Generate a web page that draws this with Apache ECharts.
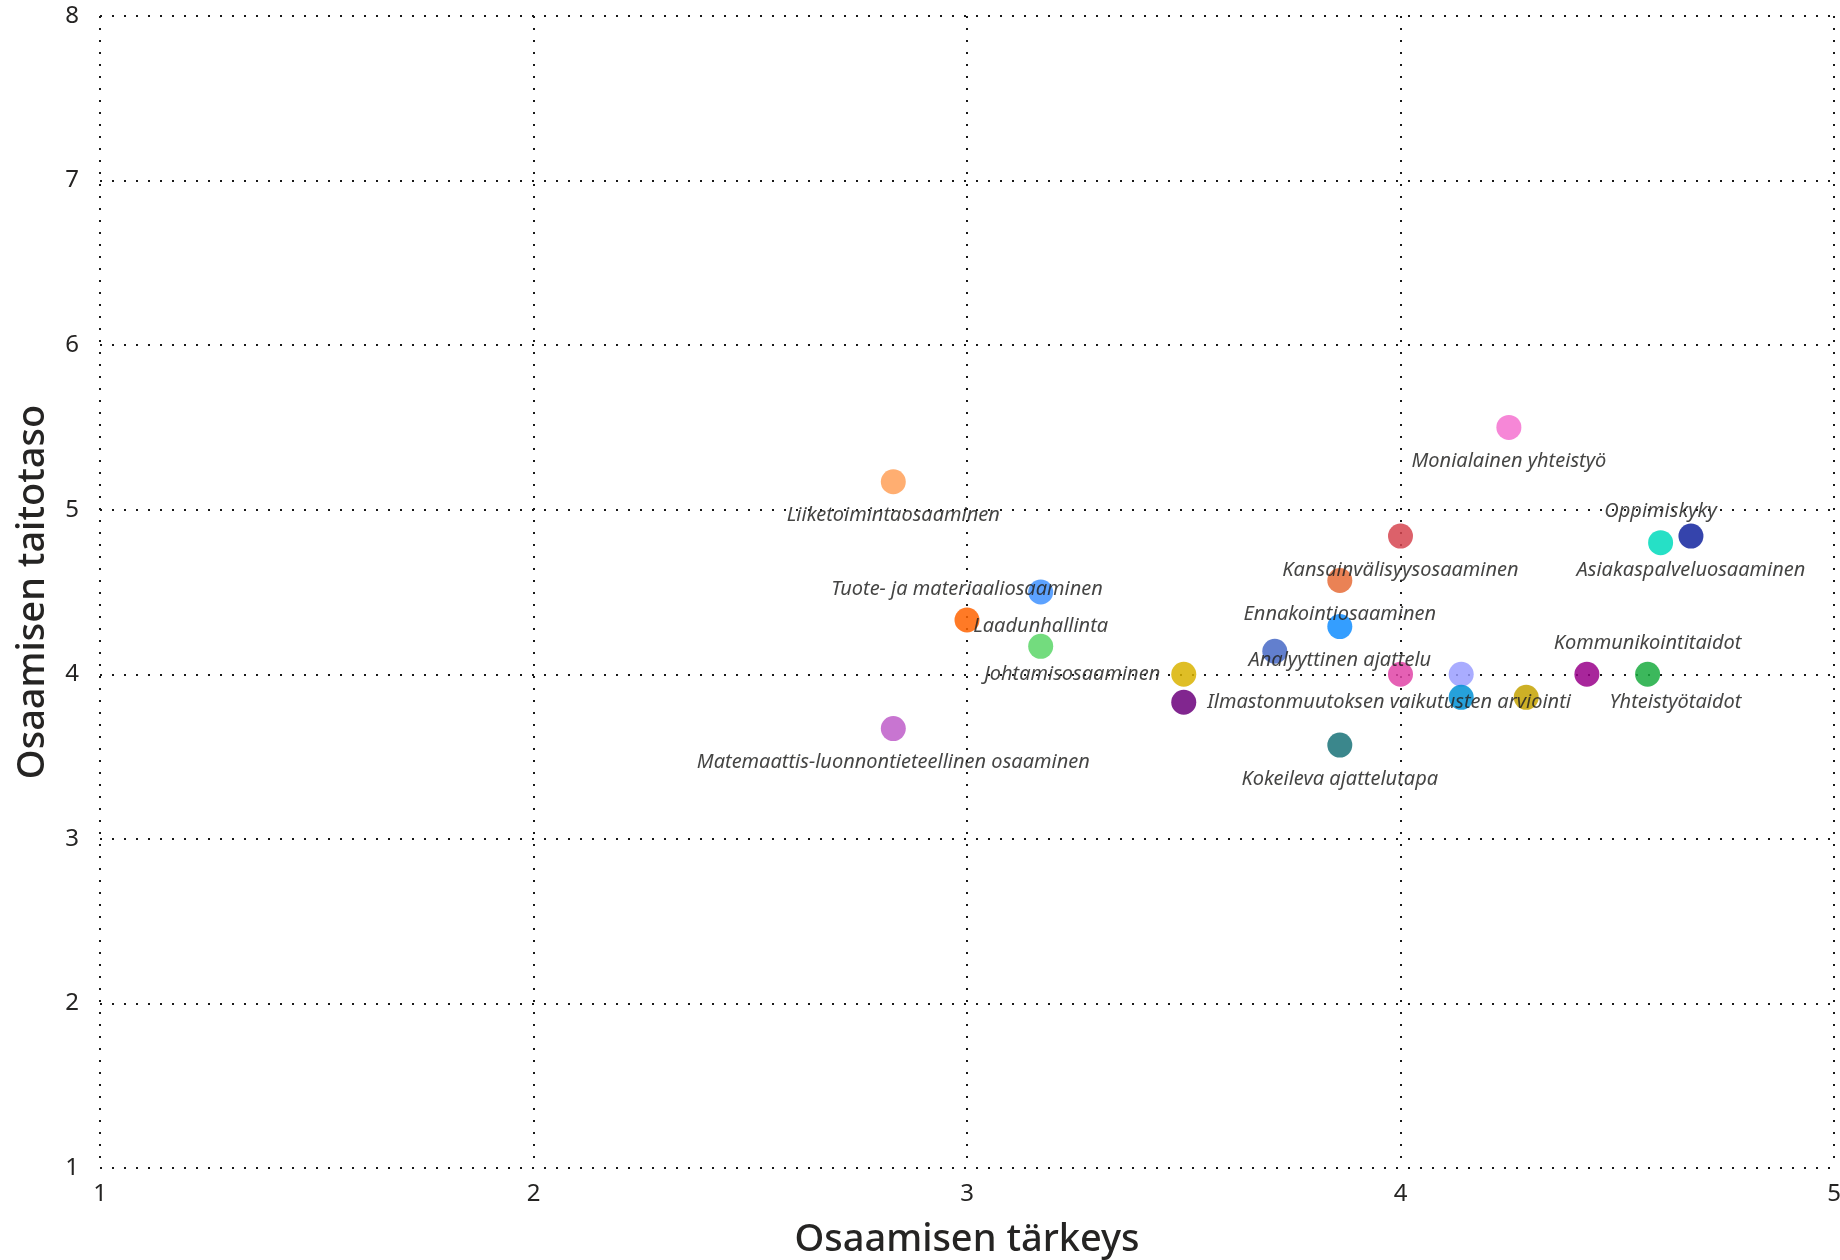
<!DOCTYPE html>
<html>
<head>
<meta charset="utf-8">
<script src="https://cdn.jsdelivr.net/npm/echarts@6/dist/echarts.min.js"></script>
<style>
  html, body { margin: 0; padding: 0; background: #fff; overflow: hidden; }
  #chart { width: 1840px; height: 1260px; }
</style>
</head>
<body>
<div id="chart"></div>
<script>
// ---- data ----
const skillNames = [
  "Liiketoimintaosaaminen",
  "Tuote- ja materiaaliosaaminen",
  "Laadunhallinta",
  "",
  "Matemaattis-luonnontieteellinen osaaminen",
  "Johtamisosaaminen",
  "Ilmastonmuutoksen vaikutusten arviointi",
  "",
  "Analyyttinen ajattelu",
  "Ennakointiosaaminen",
  "Kokeileva ajattelutapa",
  "Kansainvälisyysosaaminen",
  "",
  "",
  "",
  "",
  "Monialainen yhteistyö",
  "Yhteistyötaidot",
  "Kommunikointitaidot",
  "Oppimiskyky",
  "Asiakaspalveluosaaminen"
];
const importance = [2.83, 3.0, 3.17, 3.17, 2.83, 3.5, 3.5, 3.71, 3.86, 3.86, 3.86, 4.0, 4.0, 4.14, 4.14, 4.29, 4.25, 4.43, 4.57, 4.6, 4.67];
const skillLevel = [5.17, 4.33, 4.5, 4.17, 3.67, 4.0, 3.83, 4.14, 4.29, 4.57, 3.57, 4.84, 4.0, 4.0, 3.86, 3.86, 5.5, 4.0, 4.0, 4.8, 4.84];
const xTicks = [1, 2, 3, 4, 5];
const yTicks = [1, 2, 3, 4, 5, 6, 7, 8];
const xTitle = "Osaamisen tärkeys";
const yTitle = "Osaamisen taitotaso";

// ---- styles ----
const palette = ["#FFA058", "#FF6300", "#4092FF", "#5BD667", "#BE5DC9", "#D9B300", "#6B007B",
  "#4668C5", "#118DFF", "#E66C37", "#197278", "#D64550", "#E044A7", "#9A9EFF", "#0091D5",
  "#C4A200", "#F472D0", "#99008A", "#1AAB40", "#00DBBC", "#12239E"];
const placement = ["bottom", "top", "bottom", "none", "bottom", "left", "right", "none", "bottom",
  "bottom", "bottom", "bottom", "none", "none", "none", "none", "bottom", "bottomRight", "top", "top", "bottom"];
const SYM = 25;

function labelFor(p) {
  const base = { show: true, color: "#252423", fontFamily: "Noto Sans", fontStyle: "italic", fontSize: 20,
    verticalAlign: "middle" };
  const c = SYM / 2;
  if (p === "none") return { show: false };
  if (p === "bottom") return Object.assign(base, { position: [c, c + 34], align: "center" });
  if (p === "top") return Object.assign(base, { position: [c, c - 31], align: "center" });
  if (p === "left") return Object.assign(base, { position: [-11, c], align: "right" });
  if (p === "right") return Object.assign(base, { position: [SYM + 11, c], align: "left" });
  if (p === "bottomRight") return Object.assign(base, { position: [SYM + 10, c + 28], align: "left" });
}

const points = importance.map((x, i) => ({
  name: skillNames[i],
  value: [x, skillLevel[i]],
  itemStyle: { color: palette[i], opacity: 0.85 },
  label: labelFor(placement[i])
}));

const dotted = { type: [2, 10], width: 2, color: "#1a1a1a" };
const titleStyle = { fontFamily: "Noto Sans", fontSize: 38, fontWeight: 500, color: "#252423" };
const chart = echarts.init(document.getElementById("chart"));
chart.setOption({
  animation: false,
  grid: { left: 100, right: 6, top: 16, bottom: 92, containLabel: false, outerBoundsMode: "none" },
  xAxis: {
    type: "value", min: xTicks[0], max: xTicks[xTicks.length - 1], interval: 1,
    name: xTitle, nameLocation: "middle", nameGap: 53,
    nameTextStyle: titleStyle,
    axisLine: { show: false }, axisTick: { show: false },
    axisLabel: { fontFamily: "Noto Sans", fontSize: 24, color: "#252423", margin: 14 },
    splitLine: { show: true, lineStyle: dotted }
  },
  yAxis: {
    type: "value", min: yTicks[0], max: yTicks[yTicks.length - 1], interval: 1,
    name: yTitle, nameLocation: "middle", nameGap: 48, nameRotate: 90,
    nameTextStyle: titleStyle,
    axisLine: { show: false }, axisTick: { show: false },
    axisLabel: { fontFamily: "Noto Sans", fontSize: 24, color: "#252423", margin: 21 },
    splitLine: { show: true, lineStyle: dotted }
  },
  series: [{
    type: "scatter",
    symbol: "circle",
    symbolSize: SYM,
    data: points,
    label: { formatter: "{b}" }
  }]
});
</script>
</body>
</html>
